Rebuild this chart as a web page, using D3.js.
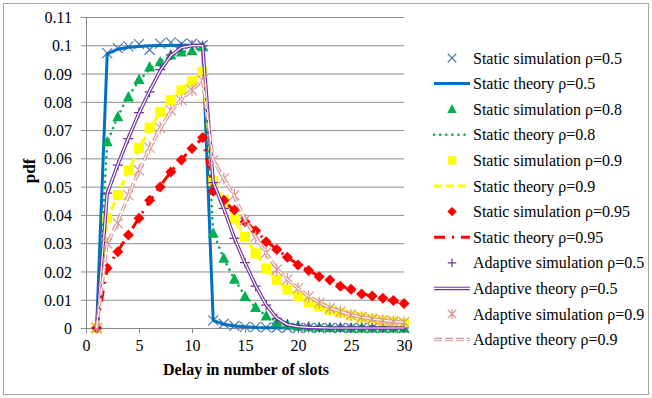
<!DOCTYPE html>
<html>
<head>
<meta charset="utf-8">
<script src="https://cdn.jsdelivr.net/npm/d3@7"></script>
<style>
  html, body { margin: 0; padding: 0; background: #fff; }
  svg text { font-family: "Liberation Serif", "Times New Roman", Times, "DejaVu Serif", serif; fill: #000; }
</style>
</head>
<body>
<svg id="chart" width="652" height="398"></svg>
<script>
// delay in slots (x categories)
const delays = [1,2,3,4,5,6,7,8,9,10,11,12,13,14,15,16,17,18,19,20,21,22,23,24,25,26,27,28,29,30];

const staticSim05 = [0, 0.0972, 0.0990, 0.0996, 0.1004, 0.0984, 0.1006, 0.1010, 0.1005, 0.1006, 0.1000, 0.0027, 0.0015, 0.0008, 0.0004, 0.0003, 0.0002, 0.0001, 0.0001, 0, 0, 0, 0, 0, 0, 0, 0, 0, 0, 0];
const staticTh05  = [0, 0.0970, 0.0986, 0.0993, 0.0996, 0.0998, 0.0999, 0.0999, 0.1000, 0.1000, 0.1000, 0.0027, 0.0013, 0.0007, 0.0004, 0.0002, 0.0001, 0.0001, 0, 0, 0, 0, 0, 0, 0, 0, 0, 0, 0, 0];

const staticSim08 = [0, 0.0658, 0.0747, 0.0817, 0.0879, 0.0923, 0.0941, 0.0965, 0.0976, 0.0980, 0.0994, 0.0335, 0.0246, 0.0172, 0.0111, 0.0072, 0.0042, 0.0022, 0.0012, 0.0007, 0.0004, 0.0002, 0.0001, 0.0001, 0, 0, 0, 0, 0, 0];
const staticTh08  = [0, 0.0655, 0.0750, 0.0820, 0.0875, 0.0915, 0.0943, 0.0962, 0.0975, 0.0985, 0.0992, 0.0338, 0.0245, 0.0172, 0.0115, 0.0073, 0.0043, 0.0024, 0.0013, 0.0007, 0.0004, 0.0002, 0.0001, 0.0001, 0, 0, 0, 0, 0, 0];

const staticSim09 = [0, 0.0388, 0.0470, 0.0558, 0.0637, 0.0708, 0.0764, 0.0806, 0.0841, 0.0873, 0.0906, 0.0520, 0.0452, 0.0386, 0.0322, 0.0264, 0.0210, 0.0170, 0.0136, 0.0112, 0.0092, 0.0076, 0.0063, 0.0053, 0.0044, 0.0037, 0.0031, 0.0026, 0.0022, 0.0018];
const staticTh09  = [0, 0.0385, 0.0472, 0.0555, 0.0635, 0.0705, 0.0762, 0.0808, 0.0845, 0.0876, 0.0902, 0.0522, 0.0450, 0.0384, 0.0322, 0.0265, 0.0213, 0.0170, 0.0137, 0.0112, 0.0092, 0.0076, 0.0063, 0.0053, 0.0044, 0.0037, 0.0031, 0.0026, 0.0022, 0.0018];

const staticSim095 = [0, 0.0211, 0.0270, 0.0329, 0.0388, 0.0452, 0.0499, 0.0552, 0.0594, 0.0635, 0.0674, 0.0484, 0.0452, 0.0417, 0.0376, 0.0344, 0.0305, 0.0278, 0.0250, 0.0223, 0.0203, 0.0181, 0.0170, 0.0148, 0.0137, 0.0120, 0.0113, 0.0105, 0.0097, 0.0087];
const staticTh095  = [0, 0.0210, 0.0272, 0.0330, 0.0390, 0.0448, 0.0502, 0.0552, 0.0596, 0.0636, 0.0672, 0.0486, 0.0450, 0.0415, 0.0379, 0.0344, 0.0308, 0.0278, 0.0250, 0.0225, 0.0203, 0.0183, 0.0167, 0.0150, 0.0136, 0.0123, 0.0112, 0.0103, 0.0095, 0.0087];

const adaptSim05 = [0, 0.0477, 0.0576, 0.0670, 0.0762, 0.0835, 0.0914, 0.0966, 0.0993, 0.1000, 0.0998, 0.0514, 0.0423, 0.0317, 0.0231, 0.0148, 0.0081, 0.0034, 0.0012, 0.0005, 0.0002, 0.0001, 0, 0, 0, 0, 0, 0, 0, 0];
const adaptTh05  = [0, 0.0475, 0.0578, 0.0672, 0.0760, 0.0838, 0.0910, 0.0963, 0.0992, 0.0999, 0.0999, 0.0515, 0.0422, 0.0318, 0.0230, 0.0150, 0.0082, 0.0035, 0.0012, 0.0005, 0.0002, 0.0001, 0, 0, 0, 0, 0, 0, 0, 0];

const adaptSim09 = [0, 0.0299, 0.0370, 0.0470, 0.0558, 0.0638, 0.0708, 0.0770, 0.0806, 0.0841, 0.0876, 0.0594, 0.0529, 0.0470, 0.0382, 0.0323, 0.0266, 0.0207, 0.0172, 0.0140, 0.0111, 0.0089, 0.0070, 0.0058, 0.0046, 0.0038, 0.0032, 0.0027, 0.0023, 0.0020];
const adaptTh09  = [0, 0.0298, 0.0375, 0.0468, 0.0556, 0.0636, 0.0705, 0.0766, 0.0808, 0.0843, 0.0875, 0.0595, 0.0528, 0.0465, 0.0385, 0.0322, 0.0264, 0.0210, 0.0172, 0.0140, 0.0112, 0.0090, 0.0071, 0.0058, 0.0047, 0.0038, 0.0032, 0.0027, 0.0023, 0.0020];

const xTicks = [0, 5, 10, 15, 20, 25, 30];
const yTicks = [0, 0.01, 0.02, 0.03, 0.04, 0.05, 0.06, 0.07, 0.08, 0.09, 0.1, 0.11];

const legendLabels = [
  'Static simulation ρ=0.5', 'Static theory ρ=0.5',
  'Static simulation ρ=0.8', 'Static theory ρ=0.8',
  'Static simulation ρ=0.9', 'Static theory ρ=0.9',
  'Static simulation ρ=0.95', 'Static theory ρ=0.95',
  'Adaptive simulation ρ=0.5', 'Adaptive theory ρ=0.5',
  'Adaptive simulation ρ=0.9', 'Adaptive theory ρ=0.9'
];

// series styling (kept apart from the values)
const series = [
  { values: staticSim05, kind: 'marker', shape: 'times', color: '#4a76b8', size: 5 },
  { values: staticTh05, kind: 'line', color: '#0070c0', width: 3 },
  { values: staticSim08, kind: 'marker', shape: 'triangle', color: '#00b050', size: 5.5 },
  { values: staticTh08, kind: 'line', color: '#00b050', width: 2.6, dash: '0.1,6', cap: 'round' },
  { values: staticSim09, kind: 'marker', shape: 'square', color: '#ffff00', size: 5 },
  { values: staticTh09, kind: 'line', color: '#ffff00', width: 3, dash: '8,4' },
  { values: staticSim095, kind: 'marker', shape: 'diamond', color: '#ff0000', size: 5.5 },
  { values: staticTh095, kind: 'line', color: '#ff0000', width: 3, dash: '11,7,2,7' },
  { values: adaptSim05, kind: 'marker', shape: 'plus', color: '#7030a0', size: 5 },
  { values: adaptTh05, kind: 'double', color: '#7030a0', width: 3.5 },
  { values: adaptSim09, kind: 'marker', shape: 'asterisk', color: '#d99694', size: 5 },
  { values: adaptTh09, kind: 'double', color: '#d99694', width: 3.5, dash: '8,3' }
];

const W = 652, H = 398;
const plot = { left: 86, top: 17, right: 404, bottom: 328 };
const FONT = '"Liberation Serif", "Times New Roman", Times, "DejaVu Serif", serif';

const svg = d3.select('#chart');

// outer frame
svg.append('rect')
  .attr('x', 3.5).attr('y', 3.5)
  .attr('width', W - 7).attr('height', H - 7)
  .attr('fill', '#fff').attr('stroke', '#a6a6a6').attr('stroke-width', 1);

const x = d3.scaleLinear().domain([0, 30]).range([plot.left, plot.right]);
const y = d3.scaleLinear().domain([0, 0.11]).range([plot.bottom, plot.top]);

// horizontal gridlines + y axis
const yAxis = d3.axisLeft(y).tickValues(yTicks).tickSize(-(plot.right - plot.left)).tickSizeOuter(0)
  .tickFormat(d => d3.format('~g')(+d.toFixed(2)));
const gy = svg.append('g').attr('transform', `translate(${plot.left},0)`).call(yAxis);
gy.select('.domain').attr('stroke', '#868686');
gy.selectAll('.tick line').attr('stroke', '#8c8c8c').attr('x1', -5);
gy.selectAll('.tick text').attr('x', -14).attr('dy', '0.35em');

// x axis
const xAxis = d3.axisBottom(x).tickValues(xTicks).tickSize(5).tickSizeOuter(0);
const gx = svg.append('g').attr('transform', `translate(0,${plot.bottom})`).call(xAxis);
gx.select('.domain').attr('stroke', '#868686');
gx.selectAll('.tick line').attr('stroke', '#868686');
gx.selectAll('.tick text').attr('y', 12);

svg.selectAll('.tick text')
  .attr('fill', '#000')
  .attr('font-family', FONT).attr('font-size', 16)
  .style('font-family', FONT).style('font-size', '16px');

// axis titles
svg.append('text')
  .attr('x', 246).attr('y', 375)
  .attr('text-anchor', 'middle')
  .style('font-family', FONT)
  .style('font-weight', 'bold').style('font-size', '16px')
  .text('Delay in number of slots');

svg.append('text')
  .attr('transform', 'translate(35,171) rotate(-90)')
  .attr('text-anchor', 'middle')
  .style('font-family', FONT)
  .style('font-weight', 'bold').style('font-size', '17px')
  .text('pdf');

// marker shapes
function markerPath(shape, s) {
  switch (shape) {
    case 'times': return `M${-s},${-s}L${s},${s}M${-s},${s}L${s},${-s}`;
    case 'plus': return `M${-s},0L${s},0M0,${-s}L0,${s}`;
    case 'asterisk': return `M${-s},${-s}L${s},${s}M${-s},${s}L${s},${-s}M0,${-s * 1.2}L0,${s * 1.2}`;
    case 'triangle': return `M0,${-s * 1.1}L${s},${s * 0.8}L${-s},${s * 0.8}Z`;
    case 'square': return `M${-s},${-s}H${s}V${s}H${-s}Z`;
    case 'diamond': return `M0,${-s}L${s},0L0,${s}L${-s},0Z`;
  }
}
const filled = new Set(['triangle', 'square', 'diamond']);

function drawMarker(g, shape, color, s, cx, cy) {
  const p = g.append('path')
    .attr('transform', `translate(${cx},${cy})`)
    .attr('d', markerPath(shape, s));
  if (filled.has(shape)) p.attr('fill', color).attr('stroke', 'none');
  else p.attr('fill', 'none').attr('stroke', color).attr('stroke-width', 1.2);
}

function drawLine(g, pathD, sr) {
  if (sr.kind === 'double') {
    g.append('path').attr('d', pathD)
      .attr('fill', 'none').attr('stroke', sr.color).attr('stroke-width', sr.width)
      .attr('stroke-dasharray', sr.dash || null);
    g.append('path').attr('d', pathD)
      .attr('fill', 'none').attr('stroke', '#fff').attr('stroke-width', sr.width * 0.35)
      .attr('stroke-dasharray', sr.dash || null);
  } else {
    g.append('path').attr('d', pathD)
      .attr('fill', 'none').attr('stroke', sr.color).attr('stroke-width', sr.width)
      .attr('stroke-dasharray', sr.dash || null)
      .attr('stroke-linecap', sr.cap || 'butt')
      .attr('stroke-linejoin', 'round');
  }
}

const line = d3.line().x(d => x(d[0])).y(d => y(d[1]));
const plotG = svg.append('g');

series.forEach(sr => {
  const pts = delays.map((d, i) => [d, sr.values[i]]);
  const g = plotG.append('g');
  if (sr.kind === 'marker') {
    pts.forEach(p => drawMarker(g, sr.shape, sr.color, sr.size, x(p[0]), y(p[1])));
  } else {
    drawLine(g, line(pts), sr);
  }
});

// legend
const legend = svg.append('g');
const legX = 434, legW = 36, legTextX = 473, legY0 = 58, legStep = 25.6;
series.forEach((sr, i) => {
  const cy = legY0 + i * legStep;
  if (sr.kind === 'marker') {
    drawMarker(legend, sr.shape, sr.color, sr.size * 0.85, legX + legW / 2, cy);
  } else {
    drawLine(legend, `M${legX},${cy}H${legX + legW}`, sr);
  }
  legend.append('text')
    .attr('x', legTextX).attr('y', cy).attr('dy', '0.35em')
    .style('font-family', FONT)
    .style('font-size', '16px')
    .text(legendLabels[i]);
});
</script>
</body>
</html>
